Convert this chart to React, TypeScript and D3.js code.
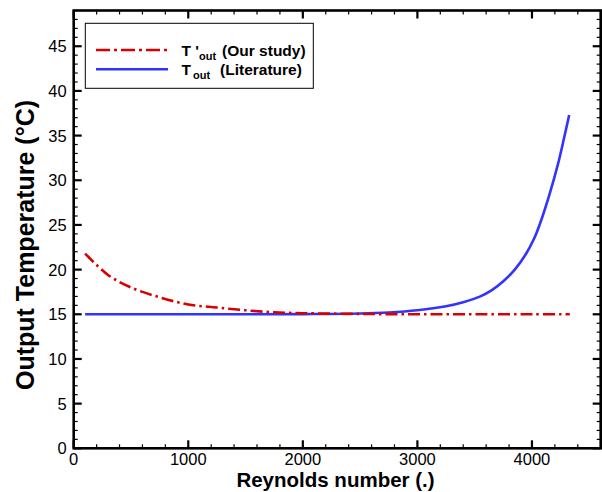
import React, { useEffect, useRef } from 'react';
import * as d3 from 'd3';

// T'out (our study) - dash dot red
const reynoldsOurs = [100, 300, 500, 750, 1000, 1250, 1500, 1750, 2000, 2500, 3000, 3500, 4000, 4330];
const tempOurs = [21.8, 19.4, 18.0, 16.9, 16.1, 15.75, 15.45, 15.22, 15.12, 15.04, 15.0, 15.0, 15.0, 15.0];

// Tout (literature) - solid blue
const reynoldsLit = [100, 1000, 2000, 2500, 2750, 3000, 3250, 3400, 3550, 3650, 3750, 3850, 3950, 4020, 4080, 4155, 4227, 4285, 4325];
const tempLit = [15.0, 15.0, 15.02, 15.08, 15.2, 15.45, 15.9, 16.35, 17.0, 17.7, 18.7, 20.0, 21.8, 23.5, 25.5, 28.5, 31.8, 35.0, 37.3];

const xTicks = [0, 1000, 2000, 3000, 4000];
const yTicks = [0, 5, 10, 15, 20, 25, 30, 35, 40, 45];

const W = 602;
const H = 492;
const FONT = '"Liberation Sans", Arial, sans-serif';

export default function App() {
  const ref = useRef<SVGSVGElement | null>(null);

  useEffect(() => {
    const svg = d3.select(ref.current);
    svg.selectAll('*').remove();

    const left = 73.7;
    const right = 600.7;
    const top = 10.5;
    const bottom = 448.3;

    const x = d3.scaleLinear().domain([0, 4600]).range([left, right]);
    const y = d3.scaleLinear().domain([0, 49]).range([bottom, top]);

    // ticks (inward on all four sides)
    const g = svg.append('g').attr('stroke', 'black');
    const xMinor = d3.range(0, 4601, 200).filter(v => v % 1000 !== 0);
    const yMinor = d3.range(0, 50, 1).filter(v => v % 5 !== 0);

    xTicks.forEach(v => {
      g.append('line').attr('x1', x(v)).attr('x2', x(v)).attr('y1', bottom).attr('y2', bottom - 8).attr('stroke-width', 2.2);
      g.append('line').attr('x1', x(v)).attr('x2', x(v)).attr('y1', top).attr('y2', top + 8).attr('stroke-width', 2.2);
    });
    xMinor.forEach(v => {
      g.append('line').attr('x1', x(v)).attr('x2', x(v)).attr('y1', bottom).attr('y2', bottom - 4).attr('stroke-width', 1.2);
      g.append('line').attr('x1', x(v)).attr('x2', x(v)).attr('y1', top).attr('y2', top + 4).attr('stroke-width', 1.2);
    });
    yTicks.forEach(v => {
      g.append('line').attr('x1', left).attr('x2', left + 8).attr('y1', y(v)).attr('y2', y(v)).attr('stroke-width', 2.2);
      g.append('line').attr('x1', right).attr('x2', right - 8).attr('y1', y(v)).attr('y2', y(v)).attr('stroke-width', 2.2);
    });
    yMinor.forEach(v => {
      g.append('line').attr('x1', left).attr('x2', left + 4).attr('y1', y(v)).attr('y2', y(v)).attr('stroke-width', 1.2);
      g.append('line').attr('x1', right).attr('x2', right - 4).attr('y1', y(v)).attr('y2', y(v)).attr('stroke-width', 1.2);
    });

    // tick labels
    svg.append('g')
      .selectAll('text')
      .data(xTicks)
      .enter()
      .append('text')
      .attr('x', d => x(d))
      .attr('y', bottom + 16.5)
      .attr('text-anchor', 'middle')
      .attr('font-family', FONT)
      .attr('font-size', 16.5)
      .text(d => String(d));

    svg.append('g')
      .selectAll('text')
      .data(yTicks)
      .enter()
      .append('text')
      .attr('x', left - 7)
      .attr('y', d => y(d) + 6)
      .attr('text-anchor', 'end')
      .attr('font-family', FONT)
      .attr('font-size', 16.5)
      .text(d => String(d));

    // lines
    const line = d3.line<[number, number]>()
      .x(d => x(d[0]))
      .y(d => y(d[1]))
      .curve(d3.curveCatmullRom.alpha(0.5));

    svg.append('path')
      .attr('d', line(reynoldsLit.map((r, i) => [r, tempLit[i]] as [number, number])))
      .attr('fill', 'none')
      .attr('stroke', '#3333ff')
      .attr('stroke-width', 2.6);

    svg.append('path')
      .attr('d', line(reynoldsOurs.map((r, i) => [r, tempOurs[i]] as [number, number])))
      .attr('fill', 'none')
      .attr('stroke', '#d90000')
      .attr('stroke-width', 2.6)
      .attr('stroke-dasharray', '12 4 2.5 4');

    // frame
    svg.append('rect')
      .attr('x', left)
      .attr('y', top)
      .attr('width', right - left)
      .attr('height', bottom - top)
      .attr('fill', 'none')
      .attr('stroke', 'black')
      .attr('stroke-width', 2.6);

    // legend
    const lg = svg.append('g');
    lg.append('rect')
      .attr('x', 85.3)
      .attr('y', 23.3)
      .attr('width', 228)
      .attr('height', 65)
      .attr('fill', 'white')
      .attr('stroke', 'black')
      .attr('stroke-width', 1);
    lg.append('line')
      .attr('x1', 96).attr('x2', 168).attr('y1', 50).attr('y2', 50)
      .attr('stroke', '#d90000').attr('stroke-width', 2.6).attr('stroke-dasharray', '14 4 3 4');
    lg.append('line')
      .attr('x1', 96).attr('x2', 168).attr('y1', 69.3).attr('y2', 69.3)
      .attr('stroke', '#3333ff').attr('stroke-width', 2.6);

    const t1 = lg.append('text')
      .attr('x', 181.5).attr('y', 55.5)
      .attr('font-family', FONT).attr('font-weight', 'bold').attr('font-size', 15.5);
    t1.append('tspan').text("T '");
    t1.append('tspan').attr('font-size', 11).attr('dy', 4).text('out');
    t1.append('tspan').attr('dy', -4).attr('dx', 6).text('(Our study)');

    const t2 = lg.append('text')
      .attr('x', 181.5).attr('y', 74.5)
      .attr('font-family', FONT).attr('font-weight', 'bold').attr('font-size', 15.5);
    t2.append('tspan').text('T');
    t2.append('tspan').attr('font-size', 11).attr('dy', 4).attr('dx', 2).text('out');
    t2.append('tspan').attr('dy', -4).attr('dx', 10).text('(Literature)');

    // axis titles
    svg.append('text')
      .attr('x', 335.5)
      .attr('y', 487)
      .attr('text-anchor', 'middle')
      .attr('font-family', FONT)
      .attr('font-weight', 'bold')
      .attr('font-size', 20.5)
      .text('Reynolds number (.)');

    svg.append('text')
      .attr('transform', 'translate(33.5,245) rotate(-90)')
      .attr('text-anchor', 'middle')
      .attr('font-family', FONT)
      .attr('font-weight', 'bold')
      .attr('font-size', 25)
      .text('Output Temperature (°C)');
  }, []);

  return (
    <svg
      ref={ref}
      width={W}
      height={H}
      style={{ position: 'absolute', left: 0, top: 0, background: 'white' }}
    />
  );
}
